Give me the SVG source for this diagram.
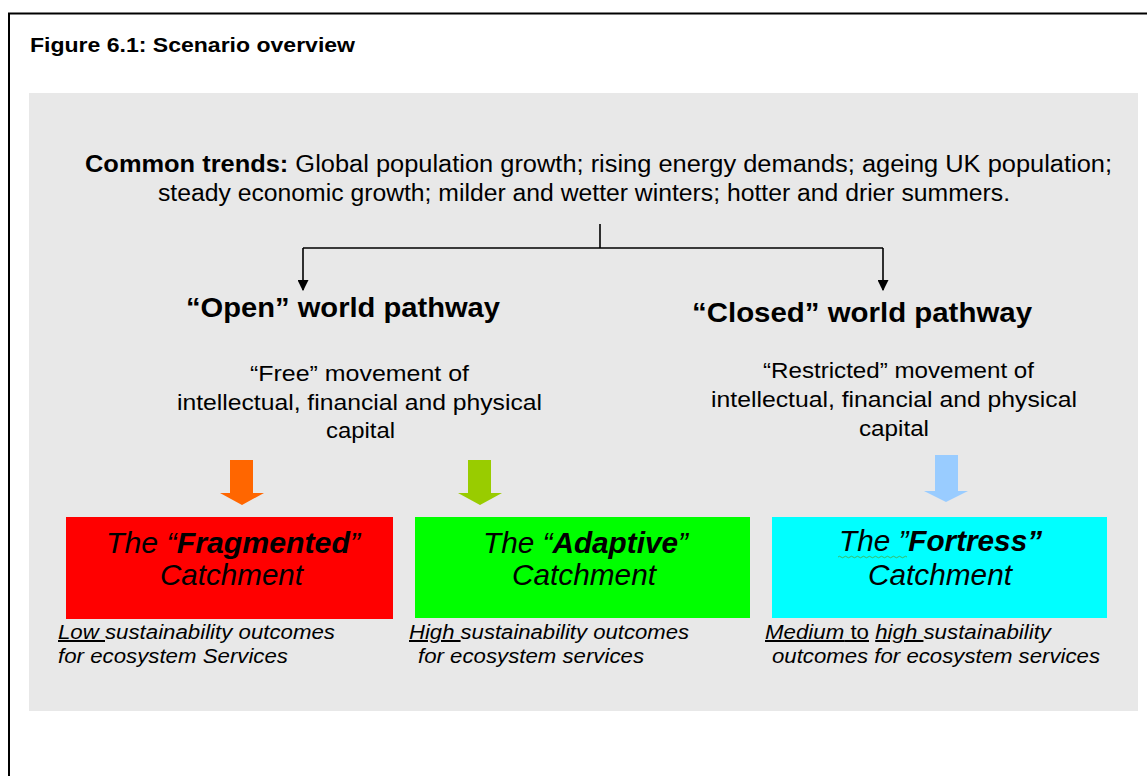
<svg xmlns="http://www.w3.org/2000/svg" width="1147" height="776" viewBox="0 0 1147 776">
  <style>
    .sans { font-family: "Liberation Sans", Arial, sans-serif; fill: #000; }
    .title { font-family: "Liberation Sans", Arial, sans-serif; font-weight: bold; font-size: 21px; }
    .trend { font-size: 23px; }
    .path-head { font-size: 28px; font-weight: bold; }
    .desc { font-size: 22px; }
    .box-label { font-size: 29px; font-style: italic; }
    .outcome { font-size: 20px; font-style: italic; }
    .connector { stroke: #000; stroke-width: 1.6; fill: none; }
  </style>
  <defs>
    <marker id="arrowhead" viewBox="0 0 10 10" refX="9" refY="5" markerWidth="11" markerHeight="11" markerUnits="userSpaceOnUse" orient="auto">
      <path d="M0,0 L10,5 L0,10 Z" fill="#000"/>
    </marker>
  </defs>

  <!-- page frame -->
  <rect x="0" y="0" width="1147" height="776" fill="#fff"/>
  <path d="M9,776 V13.5 H1147" fill="none" stroke="#000" stroke-width="2"/>
  <text class="title" x="30" y="52" textLength="325" lengthAdjust="spacingAndGlyphs">Figure 6.1: Scenario overview</text>

  <!-- grey panel -->
  <rect x="29" y="93" width="1109" height="618" fill="#e8e8e8"/>

  <g id="common-trends">
    <text class="sans trend" x="85" y="172" textLength="1027" lengthAdjust="spacingAndGlyphs"><tspan font-weight="bold">Common trends:</tspan> Global population growth; rising energy demands; ageing UK population;</text>
    <text class="sans trend" x="158" y="201" textLength="852" lengthAdjust="spacingAndGlyphs">steady economic growth; milder and wetter winters; hotter and drier summers.</text>
  </g>

  <g id="connectors">
    <path class="connector" d="M600,224 V248 M303,248 H883"/>
    <path class="connector" d="M303,248 V290" marker-end="url(#arrowhead)"/>
    <path class="connector" d="M883,248 V290" marker-end="url(#arrowhead)"/>
  </g>

  <g id="open-pathway">
    <text class="sans path-head" x="186" y="317" textLength="314" lengthAdjust="spacingAndGlyphs">“Open” world pathway</text>
    <text class="sans desc" x="250" y="381" textLength="219" lengthAdjust="spacingAndGlyphs">“Free” movement of</text>
    <text class="sans desc" x="177" y="410" textLength="365" lengthAdjust="spacingAndGlyphs">intellectual, financial and physical</text>
    <text class="sans desc" x="326" y="438" textLength="69" lengthAdjust="spacingAndGlyphs">capital</text>
  </g>

  <g id="closed-pathway">
    <text class="sans path-head" x="692" y="322" textLength="340" lengthAdjust="spacingAndGlyphs">“Closed” world pathway</text>
    <text class="sans desc" x="763" y="378" textLength="271" lengthAdjust="spacingAndGlyphs">“Restricted” movement of</text>
    <text class="sans desc" x="711" y="407" textLength="366" lengthAdjust="spacingAndGlyphs">intellectual, financial and physical</text>
    <text class="sans desc" x="859" y="436" textLength="70" lengthAdjust="spacingAndGlyphs">capital</text>
  </g>

  <!-- block arrows -->
  <g id="arrow-fragmented">
    <path d="M230,460 H253 V493 H264 L242,505 L220,493 H230 Z" fill="#ff6600"/>
  </g>
  <g id="arrow-adaptive">
    <path d="M468,460 H491 V493 H502 L480,505 L458,493 H468 Z" fill="#99cc00"/>
  </g>
  <g id="arrow-fortress">
    <path d="M935,455 H958 V491 H968 L946,502 L924,491 H935 Z" fill="#99ccff"/>
  </g>

  <g id="fragmented">
    <rect x="66" y="517" width="327" height="102" fill="#ff0000"/>
    <text class="sans box-label" x="106" y="553" textLength="254" lengthAdjust="spacingAndGlyphs">The “<tspan font-weight="bold">Fragmented</tspan>”</text>
    <text class="sans box-label" x="160" y="585" textLength="143" lengthAdjust="spacingAndGlyphs">Catchment</text>
    <text class="sans outcome" x="58" y="639" textLength="277" lengthAdjust="spacingAndGlyphs"><tspan text-decoration="underline">Low </tspan>sustainability outcomes</text>
    <text class="sans outcome" x="58" y="663" textLength="230" lengthAdjust="spacingAndGlyphs">for ecosystem Services</text>
  </g>

  <g id="adaptive">
    <rect x="415" y="517" width="335" height="101" fill="#00ff00"/>
    <text class="sans box-label" x="483" y="553" textLength="205" lengthAdjust="spacingAndGlyphs">The “<tspan font-weight="bold">Adaptive</tspan>”</text>
    <text class="sans box-label" x="512" y="585" textLength="144" lengthAdjust="spacingAndGlyphs">Catchment</text>
    <text class="sans outcome" x="409" y="639" textLength="280" lengthAdjust="spacingAndGlyphs"><tspan text-decoration="underline">High </tspan>sustainability outcomes</text>
    <text class="sans outcome" x="418" y="663" textLength="226" lengthAdjust="spacingAndGlyphs">for ecosystem services</text>
  </g>

  <g id="fortress">
    <rect x="772" y="517" width="335" height="101" fill="#00ffff"/>
    <text class="sans box-label" x="839" y="551" textLength="203" lengthAdjust="spacingAndGlyphs">The ”<tspan font-weight="bold">Fortress”</tspan></text>
    <path d="M838,557 q1.5,-1.5 3,0 t3,0 t3,0 t3,0 t3,0 t3,0 t3,0 t3,0 t3,0 t3,0 t3,0 t3,0 t3,0 t3,0 t3,0 t3,0 t3,0 t3,0 t3,0 t3,0 t3,0 t3,0 t3,0" fill="none" stroke="#44aa44" stroke-width="0.8"/>
    <text class="sans box-label" x="868" y="585" textLength="144" lengthAdjust="spacingAndGlyphs">Catchment</text>
    <text class="sans outcome" x="765" y="639" textLength="286" lengthAdjust="spacingAndGlyphs"><tspan text-decoration="underline">Medium</tspan><tspan font-style="normal" text-decoration="underline"> to</tspan> <tspan text-decoration="underline">high </tspan>sustainability</text>
    <text class="sans outcome" x="772" y="663" textLength="328" lengthAdjust="spacingAndGlyphs">outcomes for ecosystem services</text>
  </g>
</svg>
